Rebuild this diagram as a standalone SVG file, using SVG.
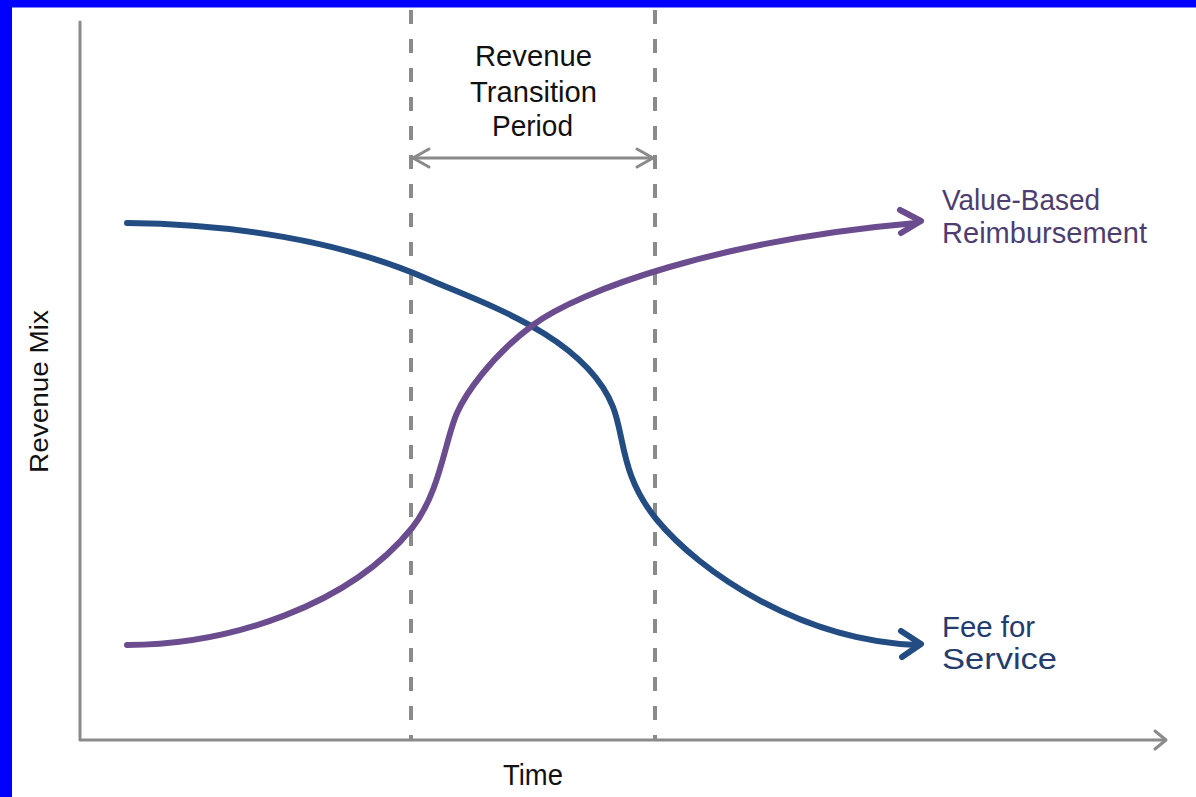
<svg xmlns="http://www.w3.org/2000/svg" width="1196" height="797" viewBox="0 0 1196 797">
<style>
  .lbl { font-family: "Liberation Sans", Arial, sans-serif; font-size: 29px; }
  .dark { fill: #111111; }
  .axis { stroke: #8a8a8a; stroke-width: 3; fill: none; stroke-linecap: round; stroke-linejoin: round; }
  .dash { stroke: #8a8a8a; stroke-width: 4; fill: none; stroke-dasharray: 14 15; }
  .ffs { stroke: #234d82; stroke-width: 6; fill: none; stroke-linecap: round; stroke-linejoin: round; }
  .vbr { stroke: #6b4c8e; stroke-width: 6; fill: none; stroke-linecap: round; stroke-linejoin: round; }
</style>
<rect x="0" y="0" width="1196" height="797" fill="#ffffff"/>
<rect x="0" y="0" width="1196" height="7.5" fill="#0000ff"/>
<rect x="0" y="0" width="12" height="797" fill="#0000ff"/>

<g id="axes">
  <path class="axis" d="M80,22 L80,740 L1165,740"/>
  <path class="axis" d="M1155,731 L1166,740 L1155,749"/>
</g>

<g id="transition-lines">
  <line class="dash" x1="411" y1="10" x2="411" y2="740"/>
  <line class="dash" x1="655" y1="10" x2="655" y2="740"/>
  <path class="axis" d="M414,158 L652,158"/>
  <path class="axis" d="M429,149 L413,158 L429,167"/>
  <path class="axis" d="M637,149 L653,158 L637,167"/>
</g>

<g id="connectors">
  <path class="ffs" d="M127,223 C230,224 340,240 430,280 C480,302 585,336 613,407 C625,437 620,475 657,520 C700,572 800,640 916,645"/>
  <path class="ffs" d="M901,631 L921,644 L902,657"/>
  <path class="vbr" d="M127,645 C230,645 350,605 412,528 C440,493 445,440 457,413 C465,395 490,357 533,325 C580,290 720,240 916,223"/>
  <path class="vbr" d="M900,210 L921,221 L901,233"/>
</g>

<g id="node-transition">
  <text class="lbl dark" x="475" y="66" textLength="117" lengthAdjust="spacingAndGlyphs">Revenue</text>
  <text class="lbl dark" x="470" y="102" textLength="127" lengthAdjust="spacingAndGlyphs">Transition</text>
  <text class="lbl dark" x="492" y="136" textLength="81" lengthAdjust="spacingAndGlyphs">Period</text>
</g>

<g id="node-value-based">
  <text class="lbl" fill="#4e3e70" x="942" y="210" textLength="158" lengthAdjust="spacingAndGlyphs">Value-Based</text>
  <text class="lbl" fill="#4e3e70" x="942" y="243" textLength="205" lengthAdjust="spacingAndGlyphs">Reimbursement</text>
</g>

<g id="node-fee-for-service">
  <text class="lbl" fill="#243c6c" x="942" y="637" textLength="93" lengthAdjust="spacingAndGlyphs">Fee for</text>
  <text class="lbl" fill="#243c6c" x="942" y="669" textLength="115" lengthAdjust="spacingAndGlyphs">Service</text>
</g>

<g id="node-time">
  <text class="lbl dark" x="503" y="785" textLength="60" lengthAdjust="spacingAndGlyphs">Time</text>
</g>

<g id="node-revenue-mix">
  <text class="lbl dark" transform="translate(48,473) rotate(-90)" x="0" y="0" style="font-size:25px" textLength="163" lengthAdjust="spacingAndGlyphs">Revenue Mix</text>
</g>
</svg>
